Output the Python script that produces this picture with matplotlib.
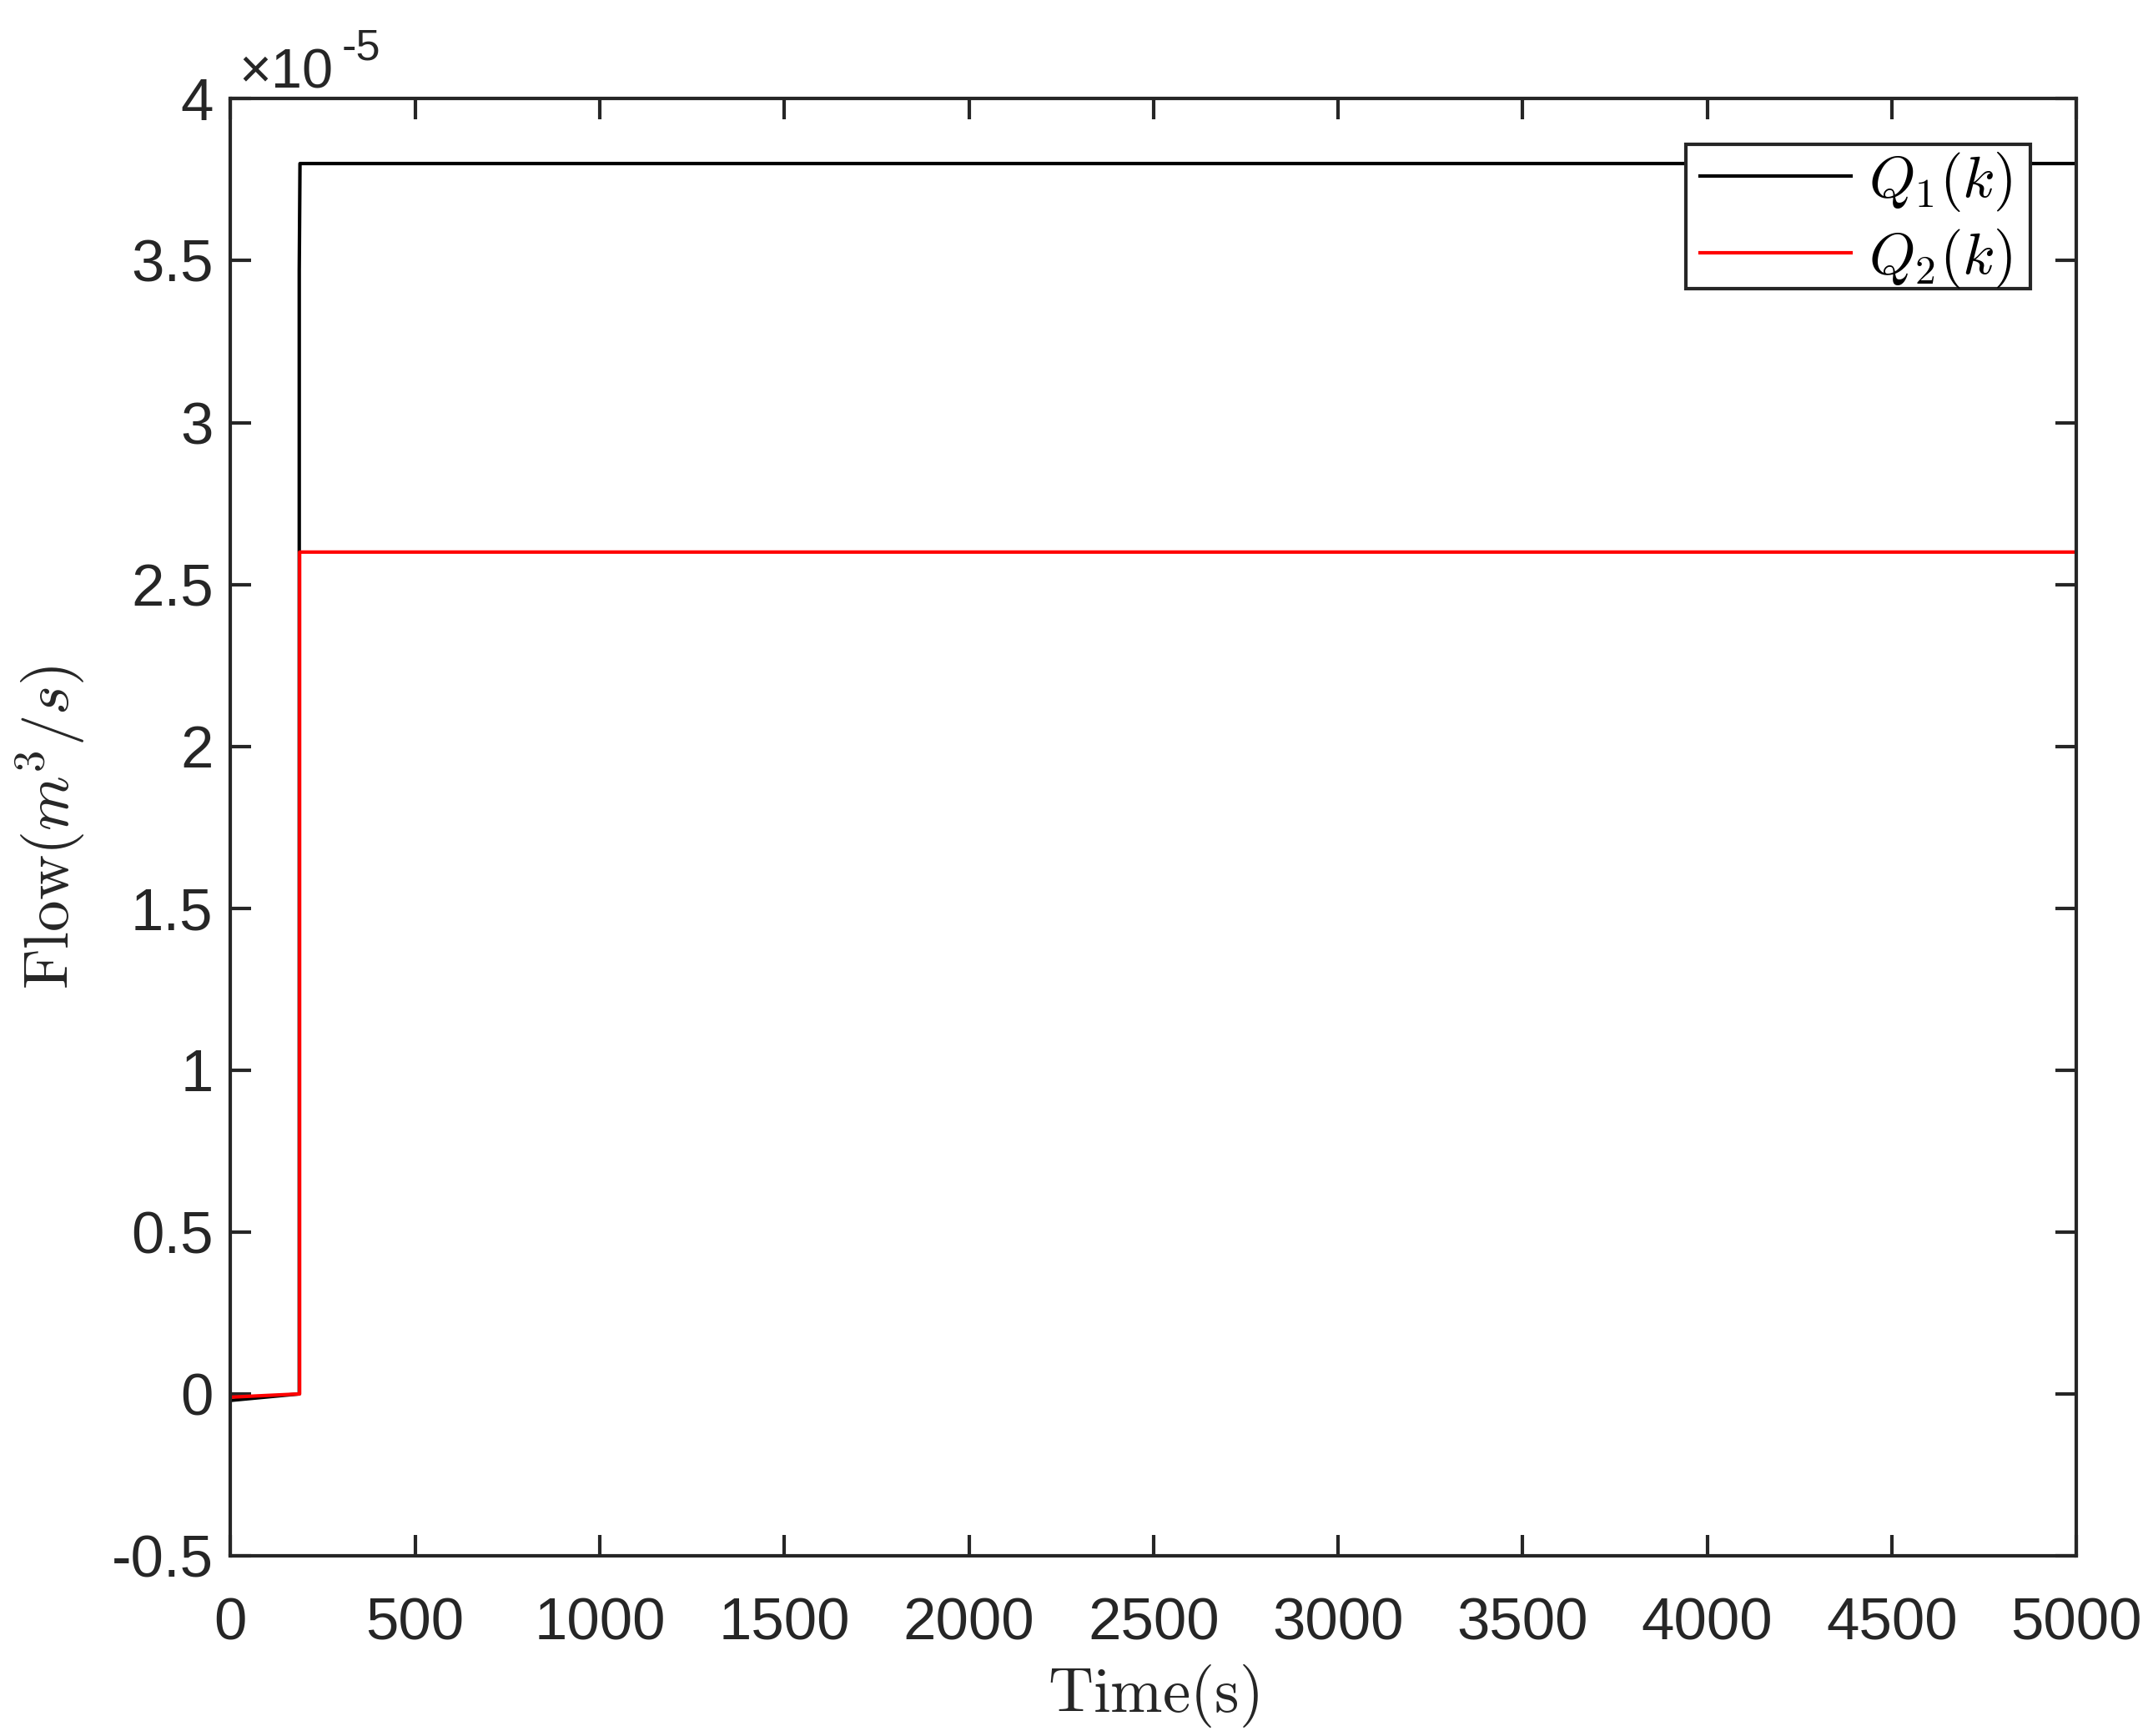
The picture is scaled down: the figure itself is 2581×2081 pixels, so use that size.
import matplotlib
matplotlib.use("Agg")
import matplotlib.pyplot as plt
from matplotlib.patches import Rectangle
from matplotlib.ticker import FuncFormatter, MultipleLocator

# step response of both flows (m^3/s)
t_q1 = [0, 186, 186, 188, 5000]
q1 = [-0.02e-5, 0.0, 3.47e-5, 3.80e-5, 3.80e-5]
t_q2 = [0, 187, 187, 5000]
q2 = [-0.01e-5, 0.0, 2.60e-5, 2.60e-5]

x_ticks = [0, 500, 1000, 1500, 2000, 2500, 3000, 3500, 4000, 4500, 5000]
labels = [r"$Q_1(k)$", r"$Q_2(k)$"]

plt.rcParams["font.family"] = ["Liberation Sans", "DejaVu Sans"]

dark = "#262626"
fig = plt.figure(figsize=(2581 / 300, 2081 / 300), dpi=300)
ax = fig.add_axes([0.1071, 0.1038, 0.8573, 0.8393])

ax.plot(t_q1, q1, color="black", lw=1.0, label=labels[0])
ax.plot(t_q2, q2, color="red", lw=1.0, label=labels[1])

ax.set_xlim(0, 5000)
ax.set_ylim(-0.5e-5, 4e-5)
ax.set_xticks(x_ticks)
ax.yaxis.set_major_locator(MultipleLocator(0.5e-5))
ax.yaxis.set_major_formatter(FuncFormatter(lambda v, p: f"{round(v / 1e-5, 2):g}"))

ax.tick_params(direction="in", length=6, width=1.0, top=True, right=True,
               labelsize=17, colors=dark)
ax.tick_params(axis="x", pad=12)
ax.tick_params(axis="y", pad=5)
for s in ax.spines.values():
    s.set_color(dark)
    s.set_linewidth(1.0)

# MATLAB style exponent label above the y axis
ax.annotate("\u00d710", xy=(0, 1), xycoords="axes fraction",
            xytext=(2.5, 3.2), textcoords="offset points",
            fontsize=16, color=dark, ha="left", va="baseline")
ax.annotate("-5", xy=(0, 1), xycoords="axes fraction",
            xytext=(32, 11.2), textcoords="offset points",
            fontsize=12.5, color=dark, ha="left", va="baseline")

ax.set_xlabel(r"$\mathrm{Time(s)}$", fontsize=18, color=dark,
              math_fontfamily="cm", labelpad=3)
ax.set_ylabel(r"$\mathrm{Flow}(m^3/s)$", fontsize=18, color=dark,
              math_fontfamily="cm", labelpad=7)

# legend entries without frame, frame drawn separately (MATLAB-like tight box)
leg = ax.legend(loc="upper right", bbox_to_anchor=(0.9684, 0.9688),
                borderaxespad=0, borderpad=0.1, handlelength=2.55,
                handletextpad=0.3, labelspacing=0.22, frameon=False,
                prop={"math_fontfamily": "cm", "size": 17})
for txt in leg.get_texts():
    txt.set_math_fontfamily("cm")
ax.add_patch(Rectangle((0.7885, 0.8697), 0.9751 - 0.7885, 0.9688 - 0.8697,
                       transform=ax.transAxes, facecolor="white",
                       edgecolor=dark, lw=1.0, zorder=4.9))
leg.set_zorder(5)

fig.savefig("out.png", dpi=300, facecolor="white")
